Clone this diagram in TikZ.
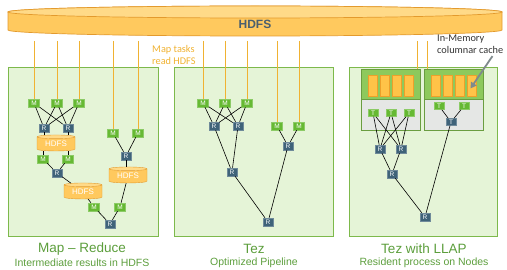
\documentclass[tikz,border=0pt]{standalone}
\usepackage{fontspec}
\setmainfont{Liberation Sans}
\newfontfamily\notefont{Carlito}
\usepackage{xcolor}
\usepackage{tikz}
\usetikzlibrary{shapes.geometric, arrows.meta, positioning}

\definecolor{hdfsfill}{HTML}{FFC95E}
\definecolor{hdfstop}{HTML}{FFDA88}
\definecolor{hdfsline}{HTML}{E39A2D}
\definecolor{hdfstext}{HTML}{4A5F6E}
\definecolor{panelfill}{HTML}{E5F4D7}
\definecolor{panelline}{HTML}{7DB94B}
\definecolor{mapgreen}{HTML}{66B933}
\definecolor{redslate}{HTML}{3F6379}
\definecolor{feedline}{HTML}{F0B232}
\definecolor{titlegreen}{HTML}{5C9E3C}
\definecolor{cachegreen}{HTML}{8DC95C}
\definecolor{cachegray}{HTML}{E5E7E5}
\definecolor{cellfill}{HTML}{FFC348}
\definecolor{cellline}{HTML}{EDA02A}
\definecolor{arrowgray}{HTML}{7F8A8C}

\begin{document}
\begin{tikzpicture}[x=1pt, y=-1pt,
			panel/.style={draw=panelline, fill=panelfill, line width=0.8pt, minimum width=#1, minimum height=169pt, inner sep=0pt},
			mapper/.style={draw=mapgreen!75!white, fill=mapgreen, text=white, minimum width=11pt, minimum height=8pt, inner sep=0pt, font=\fontsize{6.5}{6.5}\selectfont},
			reducer/.style={mapper, draw=redslate!75!white, fill=redslate, minimum width=10pt},
			tasker/.style={mapper, minimum width=10pt, minimum height=7pt},
			disk/.style={cylinder, shape border rotate=90, draw=hdfsline, cylinder uses custom fill, cylinder body fill=hdfsfill, cylinder end fill=hdfstop, aspect=0.17, minimum width=38pt, minimum height=16pt, inner sep=0pt, text=white, font=\fontsize{8}{8}\selectfont},
			store/.style={draw=hdfsline, line width=0.7pt},
			storelabel/.style={inner sep=0pt, text=hdfstext, font=\bfseries\fontsize{12}{12}\selectfont},
			cache/.style={draw=panelline!85!black, fill=cachegreen, minimum width=59pt, minimum height=30pt, inner sep=0pt},
			daemon/.style={draw=panelline!85!black, fill=cachegray, minimum width=59pt, minimum height=31pt, inner sep=0pt},
			cell/.style={draw=cellline, fill=cellfill, minimum width=8.5pt, minimum height=21pt, inner sep=0pt},
			heading/.style={text=titlegreen, font=\fontsize{13.5}{14}\selectfont},
			caption/.style={text=titlegreen, font=\fontsize{10.5}{11}\selectfont},
			note/.style={align=left, anchor=north west, inner sep=0pt, font=\notefont\fontsize{10.3}{12}\selectfont},
			link/.style={draw=black, line width=0.6pt},
			feed/.style={draw=feedline, line width=0.8pt},
			pointer/.style={draw=arrowgray, line width=1.8pt, -{Triangle[length=6pt, width=6.5pt]}}
			]
			\useasboundingbox (0,0) rectangle (507,270);
			\filldraw[store, fill=hdfsfill] (8,12) -- (8,30) arc[start angle=180, end angle=360, x radius=247pt, y radius=6pt] -- (502,12) arc[start angle=0, end angle=180, x radius=247pt, y radius=6pt] -- cycle;
			\filldraw[store, fill=hdfstop] (255,12) ellipse[x radius=247pt, y radius=6pt];
			\node [storelabel](hdfs) at (255,24) {HDFS};
			\coordinate (feedtop) at (0,41);
			\node [note, text=feedline](mapnote) at (152,45) {Map tasks\\read HDFS};
			\node [note, text=black!80](cachenote) at (437,35) {In-Memory\\columnar cache};

			\node [panel=150pt](mrpanel) at (83,151.5) {};
			\node [panel=159pt](tezpanel) at (253.5,151.5) {};
			\node [panel=148pt](llappanel) at (423,151.5) {};
			\node [heading](mrtitle) at (82,249) {Map -- Reduce};
			\node [caption](mrsub) [below of=mrtitle, node distance=14pt] {Intermediate results in HDFS};
			\node [heading](teztitle) at (254,249) {Tez};
			\node [caption](tezsub) [below of=teztitle, node distance=14pt] {Optimized Pipeline};
			\node [heading](llaptitle) at (424,249) {Tez with LLAP};
			\node [caption](llapsub) [below of=llaptitle, node distance=14pt] {Resident process on Nodes};

			\node [mapper](m1) at (34,103) {M};
			\node [mapper](m2) at (57,103) {M};
			\node [mapper](m3) at (79,103) {M};
			\node [reducer](r1) at (44,128) {R};
			\node [reducer](r2) at (68,128) {R};
			\node [disk](d1) at (56,144) {HDFS};
			\node [mapper](m4) at (43,159) {M};
			\node [mapper](m5) at (68,159) {M};
			\node [reducer](r3) at (57,173) {R};
			\node [disk](d2) at (83,192) {HDFS};
			\node [mapper](m6) at (113,133) {M};
			\node [mapper](m7) at (138,133) {M};
			\node [reducer](r4) at (126,156) {R};
			\node [disk](d3) at (128,176) {HDFS};
			\node [mapper](m8) at (94,207) {M};
			\node [mapper](m9) at (120,207) {M};
			\node [reducer](r5) at (110,224) {R};

			\node [mapper](tm1) at (203,103) {M};
			\node [mapper](tm2) at (225,103) {M};
			\node [mapper](tm3) at (247,103) {M};
			\node [reducer](tr1) at (214,126) {R};
			\node [reducer](tr2) at (238,126) {R};
			\node [mapper](tm4) at (277,126) {M};
			\node [mapper](tm5) at (299,126) {M};
			\node [reducer](tr3) at (288,146) {R};
			\node [reducer](tr4) at (232,172) {R};
			\node [reducer](tr5) at (268,222) {R};

			\node [cache](box1) at (390.5,84) {};
			\node [daemon](proc1) at (390.5,114.5) {};
			\node [cache](box2) at (453.5,84) {};
			\node [daemon](proc2) at (453.5,114.5) {};
			\node [cell](c1) at (372.5,85.5) {};
			\node [cell](c2) at (384.5,85.5) {};
			\node [cell](c3) at (396.5,85.5) {};
			\node [cell](c4) at (408.5,85.5) {};
			\node [cell](c5) at (435.5,85.5) {};
			\node [cell](c6) at (447.5,85.5) {};
			\node [cell](c7) at (459.5,85.5) {};
			\node [cell](c8) at (471.5,85.5) {};
			\node [tasker](t1) at (373,113) {T};
			\node [tasker](t2) at (391,113) {T};
			\node [tasker](t3) at (409,113) {T};
			\node [tasker](t4) at (439,106) {T};
			\node [tasker](t5) at (464,106) {T};
			\node [tasker, draw=redslate!75!white, fill=redslate](dt) at (451,122) {T};
			\node [reducer](lr1) at (380,149) {R};
			\node [reducer](lr2) at (401,149) {R};
			\node [reducer](lr3) at (392,174) {R};
			\node [reducer](lr4) at (425,217) {R};

			\draw[feed] (m1 |- feedtop) -- (m1);
			\draw[feed] (m2 |- feedtop) -- (m2);
			\draw[feed] (m3 |- feedtop) -- (m3);
			\draw[feed] (m6 |- feedtop) -- (m6);
			\draw[feed] (m7 |- feedtop) -- (m7);
			\draw[feed] (tm1 |- feedtop) -- (tm1);
			\draw[feed] (tm2 |- feedtop) -- (tm2);
			\draw[feed] (tm3 |- feedtop) -- (tm3);
			\draw[feed] (tm4 |- feedtop) -- (tm4);
			\draw[feed] (tm5 |- feedtop) -- (tm5);
			\draw[feed] ([xshift=-3pt]box1.north east |- feedtop) -- ([xshift=-3pt]box1.north east);
			\draw[feed] ([xshift=4pt]box2.north west |- feedtop) -- ([xshift=4pt]box2.north west);
			\draw[pointer] ([xshift=-11pt, yshift=-2pt]cachenote.south east) -- ([xshift=-1pt, yshift=-3pt]c8.center);

			\draw[link] (m1) -- (r1);
			\draw[link] (m1) -- (r2);
			\draw[link] (m2) -- (r1);
			\draw[link] (m2) -- (r2);
			\draw[link] (m3) -- (r1);
			\draw[link] (m3) -- (r2);
			\draw[link] (r1) -- (r1 |- d1.north);
			\draw[link] (r2) -- (r2 |- d1.north);
			\draw[link] (d1.south -| m4) -- (m4);
			\draw[link] (d1.south -| m5) -- (m5);
			\draw[link] (m4) -- (r3);
			\draw[link] (m5) -- (r3);
			\draw[link] (r3) -- (d2);
			\draw[link] (d2) -- (m8);
			\draw[link] (m8) -- (r5);
			\draw[link] (m9) -- (r5);
			\draw[link] (m9) -- (d3);
			\draw[link] (r4) -- (r4 |- d3.north);
			\draw[link] (r4) -- (m6);
			\draw[link] (r4) -- (m7);

			\draw[link] (tm1) -- (tr1);
			\draw[link] (tm1) -- (tr2);
			\draw[link] (tm2) -- (tr1);
			\draw[link] (tm2) -- (tr2);
			\draw[link] (tm3) -- (tr1);
			\draw[link] (tm3) -- (tr2);
			\draw[link] (tr1) -- (tr4);
			\draw[link] (tr2) -- (tr4);
			\draw[link] (tr4) -- (tr5);
			\draw[link] (tr3) -- (tr5);
			\draw[link] (tm4) -- (tr3);
			\draw[link] (tm5) -- (tr3);

			\draw[link] (t1) -- (lr1);
			\draw[link] (t1) -- (lr2);
			\draw[link] (t2) -- (lr1);
			\draw[link] (t2) -- (lr2);
			\draw[link] (t3) -- (lr1);
			\draw[link] (t3) -- (lr2);
			\draw[link] (lr1) -- (lr3);
			\draw[link] (lr2) -- (lr3);
			\draw[link] (lr3) -- (lr4);
			\draw[link] (dt) -- (lr4);
			\draw[link] (t4) -- (dt);
			\draw[link] (t5) -- (dt);
		\end{tikzpicture}
\end{document}
